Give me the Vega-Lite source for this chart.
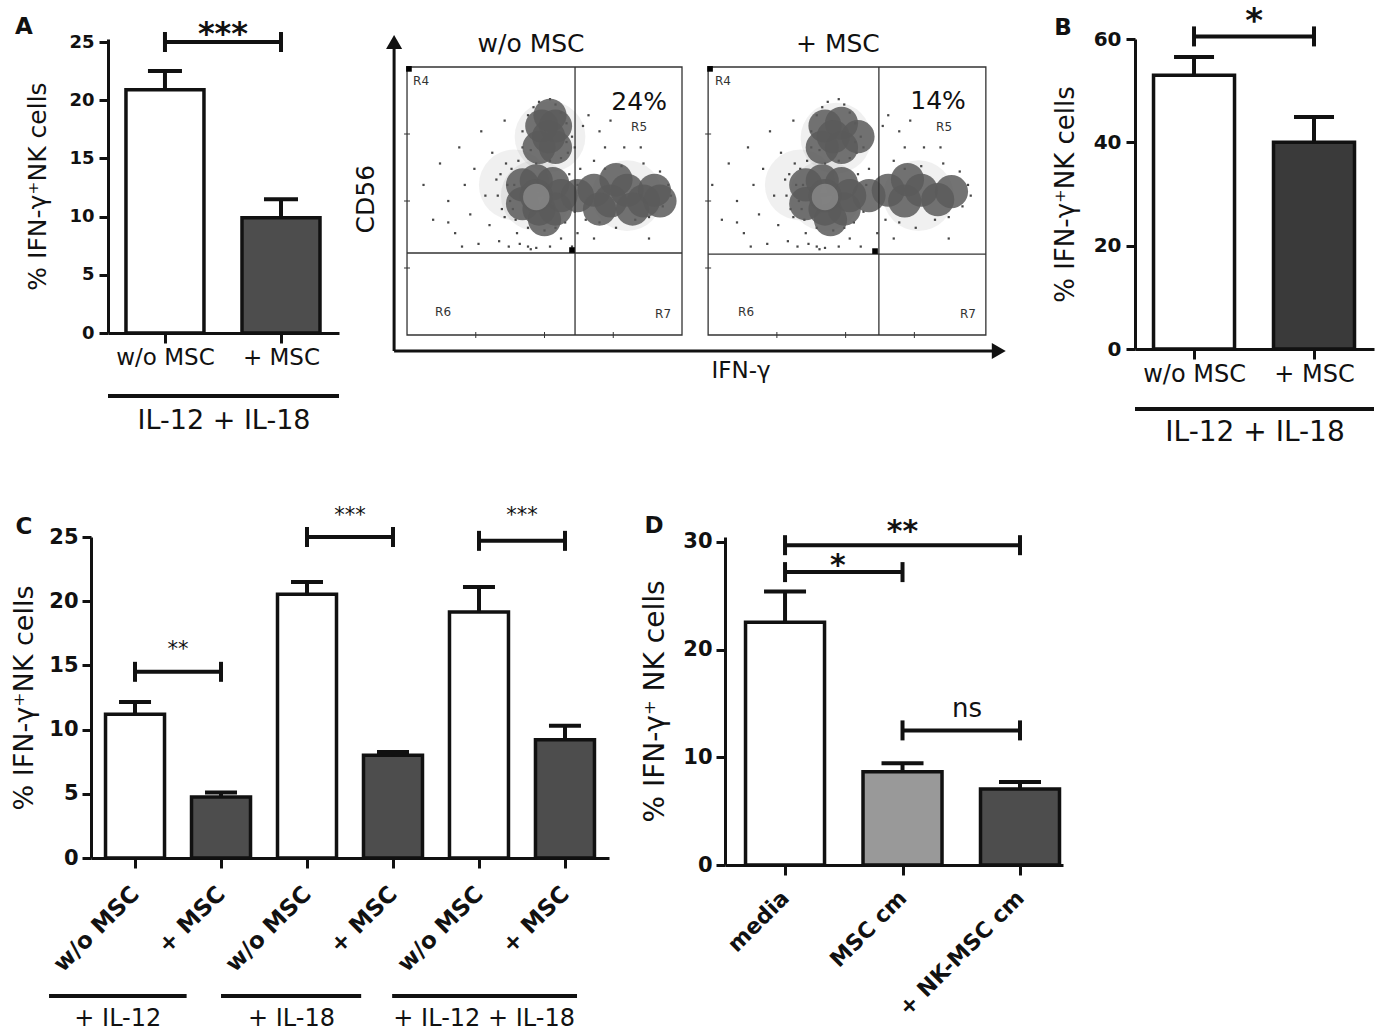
{
  "$schema": "https://vega.github.io/schema/vega-lite/v6.json",
  "background": "white",
  "padding": {"left": 10, "top": 4, "right": 0, "bottom": 0},
  "spacing": 58,
  "resolve": {"scale": {"fill": "independent"}},
  "datasets": {
    "blobs": [
      {"x": 470, "y": 520, "kind": "halo"}, {"x": 520, "y": 740, "kind": "halo"}, {"x": 800, "y": 520, "kind": "halo"}, {"x": 390, "y": 560, "kind": "halo"},
      {"x": 1520, "y": 520, "kind": "halo"}, {"x": 1560, "y": 735, "kind": "halo"}, {"x": 1860, "y": 520, "kind": "halo"}, {"x": 1430, "y": 560, "kind": "halo"},
      {"x": 420, "y": 560, "kind": "core"}, {"x": 470, "y": 575, "kind": "core"}, {"x": 530, "y": 565, "kind": "core"}, {"x": 560, "y": 520, "kind": "core"},
      {"x": 420, "y": 490, "kind": "core"}, {"x": 480, "y": 470, "kind": "core"}, {"x": 540, "y": 470, "kind": "core"}, {"x": 470, "y": 520, "kind": "core"},
      {"x": 500, "y": 430, "kind": "core"},
      {"x": 490, "y": 780, "kind": "core"}, {"x": 540, "y": 780, "kind": "core"}, {"x": 480, "y": 700, "kind": "core"}, {"x": 540, "y": 700, "kind": "core"},
      {"x": 515, "y": 740, "kind": "core"}, {"x": 520, "y": 820, "kind": "core"},
      {"x": 620, "y": 520, "kind": "core"}, {"x": 680, "y": 540, "kind": "core"}, {"x": 740, "y": 500, "kind": "core"}, {"x": 800, "y": 540, "kind": "core"},
      {"x": 860, "y": 500, "kind": "core"}, {"x": 900, "y": 540, "kind": "core"}, {"x": 700, "y": 470, "kind": "core"}, {"x": 820, "y": 470, "kind": "core"},
      {"x": 920, "y": 500, "kind": "core"}, {"x": 760, "y": 580, "kind": "core"},
      {"x": 1450, "y": 560, "kind": "core"}, {"x": 1510, "y": 575, "kind": "core"}, {"x": 1580, "y": 565, "kind": "core"}, {"x": 1610, "y": 520, "kind": "core"},
      {"x": 1450, "y": 490, "kind": "core"}, {"x": 1520, "y": 470, "kind": "core"}, {"x": 1590, "y": 470, "kind": "core"}, {"x": 1520, "y": 520, "kind": "core"},
      {"x": 1540, "y": 430, "kind": "core"},
      {"x": 1520, "y": 780, "kind": "core"}, {"x": 1580, "y": 790, "kind": "core"}, {"x": 1510, "y": 700, "kind": "core"}, {"x": 1580, "y": 700, "kind": "core"},
      {"x": 1550, "y": 740, "kind": "core"}, {"x": 1640, "y": 740, "kind": "core"},
      {"x": 1680, "y": 520, "kind": "core"}, {"x": 1750, "y": 540, "kind": "core"}, {"x": 1810, "y": 500, "kind": "core"}, {"x": 1870, "y": 540, "kind": "core"},
      {"x": 1930, "y": 505, "kind": "core"}, {"x": 1980, "y": 535, "kind": "core"}, {"x": 1820, "y": 580, "kind": "core"},
      {"x": 470, "y": 515, "kind": "light"}, {"x": 1520, "y": 515, "kind": "light"}
    ],
    "dots": [
      {"x": 60, "y": 560}, {"x": 95, "y": 430}, {"x": 120, "y": 640}, {"x": 150, "y": 500}, {"x": 175, "y": 380}, {"x": 190, "y": 700},
      {"x": 210, "y": 560}, {"x": 230, "y": 450}, {"x": 245, "y": 620}, {"x": 260, "y": 340}, {"x": 270, "y": 760}, {"x": 285, "y": 520},
      {"x": 300, "y": 410}, {"x": 310, "y": 680}, {"x": 325, "y": 580}, {"x": 335, "y": 350}, {"x": 345, "y": 470}, {"x": 355, "y": 800},
      {"x": 360, "y": 640}, {"x": 370, "y": 330}, {"x": 390, "y": 560}, {"x": 395, "y": 430}, {"x": 400, "y": 380}, {"x": 405, "y": 650},
      {"x": 410, "y": 340}, {"x": 420, "y": 700}, {"x": 560, "y": 360}, {"x": 575, "y": 420}, {"x": 590, "y": 600}, {"x": 600, "y": 330},
      {"x": 585, "y": 680}, {"x": 440, "y": 330}, {"x": 470, "y": 325}, {"x": 520, "y": 330}, {"x": 420, "y": 760}, {"x": 440, "y": 820},
      {"x": 460, "y": 850}, {"x": 560, "y": 830}, {"x": 580, "y": 790}, {"x": 600, "y": 740}, {"x": 610, "y": 700}, {"x": 640, "y": 780},
      {"x": 660, "y": 820}, {"x": 700, "y": 760}, {"x": 720, "y": 700}, {"x": 740, "y": 800}, {"x": 680, "y": 650}, {"x": 650, "y": 430},
      {"x": 700, "y": 420}, {"x": 760, "y": 400}, {"x": 830, "y": 430}, {"x": 880, "y": 440}, {"x": 930, "y": 480}, {"x": 950, "y": 560},
      {"x": 920, "y": 610}, {"x": 860, "y": 640}, {"x": 780, "y": 630}, {"x": 720, "y": 620}, {"x": 960, "y": 520}, {"x": 850, "y": 700},
      {"x": 790, "y": 700}, {"x": 200, "y": 330}, {"x": 450, "y": 320}, {"x": 620, "y": 380}, {"x": 680, "y": 360}, {"x": 880, "y": 360},
      {"x": 150, "y": 420}, {"x": 330, "y": 520}, {"x": 340, "y": 600}, {"x": 355, "y": 440}, {"x": 365, "y": 560}, {"x": 375, "y": 500},
      {"x": 380, "y": 620}, {"x": 385, "y": 470}, {"x": 610, "y": 460}, {"x": 620, "y": 560}, {"x": 630, "y": 620}, {"x": 470, "y": 640},
      {"x": 520, "y": 650}, {"x": 560, "y": 660}, {"x": 440, "y": 400}, {"x": 500, "y": 390}, {"x": 540, "y": 400}, {"x": 480, "y": 870},
      {"x": 520, "y": 880}, {"x": 540, "y": 860}, {"x": 450, "y": 690}, {"x": 580, "y": 720},
      {"x": 1110, "y": 560}, {"x": 1145, "y": 430}, {"x": 1170, "y": 640}, {"x": 1200, "y": 500}, {"x": 1225, "y": 380}, {"x": 1240, "y": 700},
      {"x": 1260, "y": 560}, {"x": 1280, "y": 450}, {"x": 1295, "y": 620}, {"x": 1310, "y": 340}, {"x": 1320, "y": 760}, {"x": 1335, "y": 520},
      {"x": 1350, "y": 410}, {"x": 1360, "y": 680}, {"x": 1375, "y": 580}, {"x": 1385, "y": 350}, {"x": 1395, "y": 470}, {"x": 1405, "y": 800},
      {"x": 1410, "y": 640}, {"x": 1420, "y": 330}, {"x": 1440, "y": 560}, {"x": 1445, "y": 430}, {"x": 1450, "y": 380}, {"x": 1455, "y": 650},
      {"x": 1460, "y": 340}, {"x": 1470, "y": 700}, {"x": 1610, "y": 360}, {"x": 1625, "y": 420}, {"x": 1640, "y": 600}, {"x": 1650, "y": 330},
      {"x": 1635, "y": 680}, {"x": 1490, "y": 330}, {"x": 1520, "y": 325}, {"x": 1570, "y": 330}, {"x": 1470, "y": 760}, {"x": 1490, "y": 820},
      {"x": 1510, "y": 850}, {"x": 1610, "y": 830}, {"x": 1630, "y": 790}, {"x": 1650, "y": 740}, {"x": 1660, "y": 700}, {"x": 1730, "y": 780},
      {"x": 1750, "y": 820}, {"x": 1790, "y": 760}, {"x": 1810, "y": 700}, {"x": 1830, "y": 800}, {"x": 1770, "y": 650}, {"x": 1740, "y": 430},
      {"x": 1790, "y": 420}, {"x": 1850, "y": 400}, {"x": 1920, "y": 430}, {"x": 1970, "y": 440}, {"x": 2020, "y": 480}, {"x": 2040, "y": 560},
      {"x": 2010, "y": 610}, {"x": 1950, "y": 640}, {"x": 1870, "y": 630}, {"x": 1810, "y": 620}, {"x": 2050, "y": 520}, {"x": 1940, "y": 700},
      {"x": 1880, "y": 700}, {"x": 1250, "y": 330}, {"x": 1500, "y": 320}, {"x": 1710, "y": 380}, {"x": 1770, "y": 360}, {"x": 1970, "y": 360},
      {"x": 1200, "y": 420}, {"x": 1380, "y": 520}, {"x": 1390, "y": 600}, {"x": 1405, "y": 440}, {"x": 1415, "y": 560}, {"x": 1425, "y": 500},
      {"x": 1430, "y": 620}, {"x": 1435, "y": 470}, {"x": 1660, "y": 460}, {"x": 1670, "y": 560}, {"x": 1680, "y": 620}, {"x": 1520, "y": 640},
      {"x": 1570, "y": 650}, {"x": 1610, "y": 660}, {"x": 1490, "y": 400}, {"x": 1550, "y": 390}, {"x": 1590, "y": 400}, {"x": 1530, "y": 870},
      {"x": 1570, "y": 880}, {"x": 1590, "y": 860}, {"x": 1500, "y": 690}, {"x": 1630, "y": 720}
    ],
    "flowText": [
      {"x": 451, "y": 1086, "t": "w/o MSC", "kind": "ttl"}, {"x": 1567, "y": 1086, "t": "+ MSC", "kind": "ttl"},
      {"x": 844, "y": 869, "t": "24%", "kind": "pct"}, {"x": 1931, "y": 873, "t": "14%", "kind": "pct"},
      {"x": 51, "y": 948, "t": "R4", "kind": "reg"}, {"x": 844, "y": 776, "t": "R5", "kind": "reg"},
      {"x": 131, "y": 86, "t": "R6", "kind": "reg"}, {"x": 931, "y": 78, "t": "R7", "kind": "reg"},
      {"x": 1149, "y": 948, "t": "R4", "kind": "reg"}, {"x": 1953, "y": 776, "t": "R5", "kind": "reg"},
      {"x": 1233, "y": 86, "t": "R6", "kind": "reg"}, {"x": 2040, "y": 78, "t": "R7", "kind": "reg"},
      {"x": 1215, "y": -134, "t": "IFN-γ", "kind": "ax"}
    ]
  },
  "vconcat": [
    {
      "bounds": "flush",
      "spacing": 10,
      "resolve": {"scale": {"fill": "independent"}},
      "hconcat": [
        {
          "width": 7, "height": 312,
          "data": {"values": [{"a": 1}]},
          "mark": {"type": "point", "opacity": 0},
          "encoding": {}
        },
        {
          "width": 231, "height": 294,
          "layer": [
            {
              "data": {"values": [
                {"pos": 1, "cond": "w/o MSC", "mean": 20.9, "hi": 22.5},
                {"pos": 2, "cond": "+ MSC", "mean": 9.9, "hi": 11.5}
              ]},
              "layer": [
                {
                  "mark": {"type": "bar", "width": 78, "stroke": "#111", "strokeWidth": 3.5},
                  "encoding": {
                    "x": {"field": "pos", "type": "quantitative",
                      "scale": {"domain": [0.509, 2.5], "nice": false, "zero": false, "padding": 0},
                      "axis": {"values": [1, 2], "labelExpr": "datum.value == 1 ? 'w/o MSC' : '+ MSC'", "title": "IL-12 + IL-18",
                        "titleFontSize": 27, "titlePadding": 38, "labelFontSize": 23, "labelPadding": 3, "tickSize": 10,
                        "labelFlush": false, "labelOverlap": false, "labelBound": false}},
                    "y": {"field": "mean", "type": "quantitative",
                      "scale": {"domain": [0, 25.26], "nice": false},
                      "axis": {"values": [0, 5, 10, 15, 20, 25], "title": "% IFN-γ⁺NK cells", "titleFontSize": 25, "titlePadding": 18,
                        "labelFontSize": 18, "labelFontWeight": "bold", "tickSize": 9, "labelPadding": 5}},
                    "fill": {"field": "cond", "type": "nominal", "scale": {"domain": ["w/o MSC", "+ MSC"], "range": ["#ffffff", "#4d4d4d"]}, "legend": null}
                  }
                },
                {
                  "mark": {"type": "rule", "strokeWidth": 4, "color": "#111"},
                  "encoding": {"x": {"field": "pos", "type": "quantitative"}, "y": {"field": "mean", "type": "quantitative"}, "y2": {"field": "hi"}}
                },
                {
                  "mark": {"type": "tick", "orient": "horizontal", "size": 34, "thickness": 4, "color": "#111", "opacity": 1},
                  "encoding": {"x": {"field": "pos", "type": "quantitative"}, "y": {"field": "hi", "type": "quantitative"}}
                }
              ]
            },
            {
              "data": {"values": [{"x1": 1, "x2": 2, "y": 25, "mid": 1.5, "ty": 24.82, "label": "***"}]},
              "layer": [
                {"mark": {"type": "rule", "strokeWidth": 4, "color": "#111"},
                  "encoding": {"x": {"field": "x1", "type": "quantitative"}, "x2": {"field": "x2"}, "y": {"field": "y", "type": "quantitative"}}},
                {"mark": {"type": "tick", "orient": "vertical", "size": 20, "thickness": 4, "color": "#111", "opacity": 1},
                  "encoding": {"x": {"field": "x1", "type": "quantitative"}, "y": {"field": "y", "type": "quantitative"}}},
                {"mark": {"type": "tick", "orient": "vertical", "size": 20, "thickness": 4, "color": "#111", "opacity": 1},
                  "encoding": {"x": {"field": "x2", "type": "quantitative"}, "y": {"field": "y", "type": "quantitative"}}},
                {"mark": {"type": "text", "fontSize": 32, "fontWeight": "bold", "baseline": "alphabetic", "color": "#111"},
                  "encoding": {"x": {"field": "mid", "type": "quantitative"}, "y": {"field": "ty", "type": "quantitative"}, "text": {"field": "label"}}}
              ]
            },
            {
              "data": {"values": [{"panel": "A"}]},
              "layer": [
                {"mark": {"type": "rule", "strokeWidth": 4, "color": "#111"}, "encoding": {"y": {"datum": -5.41}}},
                {"mark": {"type": "text", "fontSize": 23, "fontWeight": "bold", "baseline": "middle", "color": "#111"},
                  "encoding": {"x": {"datum": -0.215}, "y": {"datum": 26.3}, "text": {"field": "panel"}}}
              ]
            }
          ]
        },
        {
          "width": 776, "height": 312,
          "layer": [
            {
              "data": {"name": "blobs"},
              "transform": [{"filter": "datum.kind == 'halo'"}],
              "mark": {"type": "point", "filled": true, "shape": "circle", "size": 5000, "color": "#777", "opacity": 0.11, "strokeWidth": 0},
              "encoding": {
                "x": {"field": "x", "type": "quantitative", "scale": {"domain": [-211, 2611], "nice": false, "zero": false, "padding": 0}, "axis": null},
                "y": {"field": "y", "type": "quantitative", "scale": {"domain": [-59.7, 1104.5], "nice": false, "zero": false, "padding": 0}, "axis": null}
              }
            },
            {
              "data": {"name": "dots"},
              "mark": {"type": "point", "filled": true, "shape": "square", "size": 5, "color": "#333", "opacity": 0.9, "strokeWidth": 0},
              "encoding": {"x": {"field": "x", "type": "quantitative"}, "y": {"field": "y", "type": "quantitative"}}
            },
            {
              "data": {"name": "blobs"},
              "transform": [{"filter": "datum.kind == 'core'"}],
              "mark": {"type": "point", "filled": true, "shape": "circle", "size": 1100, "color": "#5a5a5a", "opacity": 0.85, "strokeWidth": 0},
              "encoding": {"x": {"field": "x", "type": "quantitative"}, "y": {"field": "y", "type": "quantitative"}}
            },
            {
              "data": {"name": "blobs"},
              "transform": [{"filter": "datum.kind == 'light'"}],
              "mark": {"type": "point", "filled": true, "shape": "circle", "size": 700, "color": "#9a9a9a", "opacity": 0.6, "strokeWidth": 0},
              "encoding": {"x": {"field": "x", "type": "quantitative"}, "y": {"field": "y", "type": "quantitative"}}
            },
            {
              "data": {"values": [{"x1": 0, "x2": 1000, "y1": 0, "y2": 1000}, {"x1": 1095, "x2": 2105, "y1": 0, "y2": 1000}]},
              "mark": {"type": "rect", "filled": false, "stroke": "#333", "strokeWidth": 1.3},
              "encoding": {"x": {"field": "x1", "type": "quantitative"}, "x2": {"field": "x2"}, "y": {"field": "y1", "type": "quantitative"}, "y2": {"field": "y2"}}
            },
            {
              "data": {"values": [
                {"x1": 611, "x2": 611, "y1": 0, "y2": 1000}, {"x1": 0, "x2": 1000, "y1": 306, "y2": 306},
                {"x1": 1716, "x2": 1716, "y1": 0, "y2": 1000}, {"x1": 1095, "x2": 2105, "y1": 302, "y2": 302}
              ]},
              "mark": {"type": "rule", "stroke": "#333", "strokeWidth": 1.3},
              "encoding": {"x": {"field": "x1", "type": "quantitative"}, "x2": {"field": "x2"}, "y": {"field": "y1", "type": "quantitative"}, "y2": {"field": "y2"}}
            },
            {
              "data": {"values": [
                {"x": 0, "y": 250}, {"x": 0, "y": 500}, {"x": 0, "y": 750},
                {"x": 1095, "y": 250}, {"x": 1095, "y": 500}, {"x": 1095, "y": 750}
              ]},
              "mark": {"type": "tick", "orient": "horizontal", "size": 6, "thickness": 1, "color": "#333", "opacity": 1},
              "encoding": {"x": {"field": "x", "type": "quantitative"}, "y": {"field": "y", "type": "quantitative"}}
            },
            {
              "data": {"values": [
                {"x": 250, "y": 0}, {"x": 500, "y": 0}, {"x": 750, "y": 0},
                {"x": 1345, "y": 0}, {"x": 1595, "y": 0}, {"x": 1845, "y": 0}
              ]},
              "mark": {"type": "tick", "orient": "vertical", "size": 6, "thickness": 1, "color": "#333", "opacity": 1},
              "encoding": {"x": {"field": "x", "type": "quantitative"}, "y": {"field": "y", "type": "quantitative"}}
            },
            {
              "data": {"values": [{"x": 7, "y": 993}, {"x": 600, "y": 317}, {"x": 1102, "y": 993}, {"x": 1702, "y": 313}]},
              "mark": {"type": "point", "filled": true, "shape": "square", "size": 32, "color": "#000", "opacity": 1, "strokeWidth": 0},
              "encoding": {"x": {"field": "x", "type": "quantitative"}, "y": {"field": "y", "type": "quantitative"}}
            },
            {
              "data": {"name": "flowText"},
              "transform": [{"filter": "datum.kind == 'ttl'"}],
              "mark": {"type": "text", "fontSize": 25, "baseline": "middle", "color": "#111"},
              "encoding": {"x": {"field": "x", "type": "quantitative"}, "y": {"field": "y", "type": "quantitative"}, "text": {"field": "t"}}
            },
            {
              "data": {"name": "flowText"},
              "transform": [{"filter": "datum.kind == 'pct'"}],
              "mark": {"type": "text", "fontSize": 25, "baseline": "middle", "color": "#111"},
              "encoding": {"x": {"field": "x", "type": "quantitative"}, "y": {"field": "y", "type": "quantitative"}, "text": {"field": "t"}}
            },
            {
              "data": {"name": "flowText"},
              "transform": [{"filter": "datum.kind == 'reg'"}],
              "mark": {"type": "text", "fontSize": 12, "baseline": "middle", "color": "#333"},
              "encoding": {"x": {"field": "x", "type": "quantitative"}, "y": {"field": "y", "type": "quantitative"}, "text": {"field": "t"}}
            },
            {
              "data": {"name": "flowText"},
              "transform": [{"filter": "datum.kind == 'ax'"}],
              "mark": {"type": "text", "fontSize": 23, "baseline": "middle", "color": "#111"},
              "encoding": {"x": {"field": "x", "type": "quantitative"}, "y": {"field": "y", "type": "quantitative"}, "text": {"field": "t"}}
            },
            {
              "data": {"values": [{"x": -149, "y": 507, "t": "CD56"}]},
              "mark": {"type": "text", "fontSize": 25, "baseline": "middle", "angle": 270, "color": "#111"},
              "encoding": {"x": {"field": "x", "type": "quantitative"}, "y": {"field": "y", "type": "quantitative"}, "text": {"field": "t"}}
            },
            {
              "data": {"values": [{"x1": -47, "x2": -47, "y1": -59.7, "y2": 1085}, {"x1": -47, "x2": 2145, "y1": -59.7, "y2": -59.7}]},
              "mark": {"type": "rule", "stroke": "#111", "strokeWidth": 3},
              "encoding": {"x": {"field": "x1", "type": "quantitative"}, "x2": {"field": "x2"}, "y": {"field": "y1", "type": "quantitative"}, "y2": {"field": "y2"}}
            },
            {
              "data": {"values": [{"x": -47, "y": 1093, "dir": "up"}, {"x": 2152, "y": -59.7, "dir": "right"}]},
              "mark": {"type": "point", "filled": true, "size": 260, "color": "#111", "opacity": 1, "strokeWidth": 0},
              "encoding": {
                "x": {"field": "x", "type": "quantitative"}, "y": {"field": "y", "type": "quantitative"},
                "shape": {"field": "dir", "type": "nominal", "scale": {"domain": ["up", "right"], "range": ["triangle-up", "triangle-right"]}, "legend": null}
              }
            }
          ]
        },
        {
          "width": 239, "height": 310,
          "layer": [
            {
              "data": {"values": [
                {"pos": 1, "cond": "w/o MSC", "mean": 53.0, "hi": 56.5},
                {"pos": 2, "cond": "+ MSC", "mean": 40.0, "hi": 44.9}
              ]},
              "layer": [
                {
                  "mark": {"type": "bar", "width": 81, "stroke": "#111", "strokeWidth": 3.5},
                  "encoding": {
                    "x": {"field": "pos", "type": "quantitative",
                      "scale": {"domain": [0.508, 2.5], "nice": false, "zero": false, "padding": 0},
                      "axis": {"values": [1, 2], "labelExpr": "datum.value == 1 ? 'w/o MSC' : '+ MSC'", "title": "IL-12 + IL-18",
                        "titleFontSize": 28, "titlePadding": 32, "labelFontSize": 24, "labelPadding": 3, "tickSize": 10,
                        "labelFlush": false, "labelOverlap": false, "labelBound": false}},
                    "y": {"field": "mean", "type": "quantitative",
                      "scale": {"domain": [0, 60], "nice": false},
                      "axis": {"values": [0, 20, 40, 60], "title": "% IFN-γ⁺NK cells", "titleFontSize": 26, "titlePadding": 15,
                        "labelFontSize": 20, "labelFontWeight": "bold", "tickSize": 9, "labelPadding": 5}},
                    "fill": {"field": "cond", "type": "nominal", "scale": {"domain": ["w/o MSC", "+ MSC"], "range": ["#ffffff", "#3a3a3a"]}, "legend": null}
                  }
                },
                {
                  "mark": {"type": "rule", "strokeWidth": 4, "color": "#111"},
                  "encoding": {"x": {"field": "pos", "type": "quantitative"}, "y": {"field": "mean", "type": "quantitative"}, "y2": {"field": "hi"}}
                },
                {
                  "mark": {"type": "tick", "orient": "horizontal", "size": 40, "thickness": 4, "color": "#111", "opacity": 1},
                  "encoding": {"x": {"field": "pos", "type": "quantitative"}, "y": {"field": "hi", "type": "quantitative"}}
                }
              ]
            },
            {
              "data": {"values": [{"x1": 1, "x2": 2, "y": 60.5, "mid": 1.5, "ty": 61.4, "label": "*"}]},
              "layer": [
                {"mark": {"type": "rule", "strokeWidth": 4, "color": "#111"},
                  "encoding": {"x": {"field": "x1", "type": "quantitative"}, "x2": {"field": "x2"}, "y": {"field": "y", "type": "quantitative"}}},
                {"mark": {"type": "tick", "orient": "vertical", "size": 20, "thickness": 4, "color": "#111", "opacity": 1},
                  "encoding": {"x": {"field": "x1", "type": "quantitative"}, "y": {"field": "y", "type": "quantitative"}}},
                {"mark": {"type": "tick", "orient": "vertical", "size": 20, "thickness": 4, "color": "#111", "opacity": 1},
                  "encoding": {"x": {"field": "x2", "type": "quantitative"}, "y": {"field": "y", "type": "quantitative"}}},
                {"mark": {"type": "text", "fontSize": 34, "fontWeight": "bold", "baseline": "alphabetic", "color": "#111"},
                  "encoding": {"x": {"field": "mid", "type": "quantitative"}, "y": {"field": "ty", "type": "quantitative"}, "text": {"field": "label"}}}
              ]
            },
            {
              "data": {"values": [{"panel": "B"}]},
              "layer": [
                {"mark": {"type": "rule", "strokeWidth": 4, "color": "#111"}, "encoding": {"y": {"datum": -11.6}}},
                {"mark": {"type": "text", "fontSize": 23, "fontWeight": "bold", "baseline": "middle", "color": "#111"},
                  "encoding": {"x": {"datum": -0.092}, "y": {"datum": 62.1}, "text": {"field": "panel"}}}
              ]
            }
          ]
        }
      ]
    },
    {
      "bounds": "flush",
      "spacing": 116,
      "resolve": {"scale": {"fill": "independent"}},
      "hconcat": [
        {
          "width": 518, "height": 321,
          "layer": [
            {
              "data": {"values": [
                {"pos": 1, "cond": "w/o MSC", "mean": 11.2, "hi": 12.15},
                {"pos": 2, "cond": "+ MSC", "mean": 4.75, "hi": 5.1},
                {"pos": 3, "cond": "w/o MSC", "mean": 20.55, "hi": 21.5},
                {"pos": 4, "cond": "+ MSC", "mean": 8.0, "hi": 8.25},
                {"pos": 5, "cond": "w/o MSC", "mean": 19.15, "hi": 21.1},
                {"pos": 6, "cond": "+ MSC", "mean": 9.2, "hi": 10.3}
              ]},
              "layer": [
                {
                  "mark": {"type": "bar", "width": 59, "stroke": "#111", "strokeWidth": 3.5},
                  "encoding": {
                    "x": {"field": "pos", "type": "quantitative",
                      "scale": {"domain": [0.488, 6.512], "nice": false, "zero": false, "padding": 0},
                      "axis": {"values": [1, 2, 3, 4, 5, 6], "labelExpr": "datum.value % 2 == 1 ? 'w/o MSC' : '+ MSC'", "title": null,
                        "labelFontSize": 23, "labelFontWeight": "bold", "labelAngle": -45, "labelAlign": "right", "labelBaseline": "middle",
                        "labelPadding": 22, "tickSize": 10, "labelFlush": false, "labelOverlap": false, "labelBound": false}},
                    "y": {"field": "mean", "type": "quantitative",
                      "scale": {"domain": [0, 25], "nice": false},
                      "axis": {"values": [0, 5, 10, 15, 20, 25], "title": "% IFN-γ⁺NK cells", "titleFontSize": 27, "titlePadding": 10,
                        "labelFontSize": 21, "labelFontWeight": "bold", "tickSize": 9, "labelPadding": 4}},
                    "fill": {"field": "cond", "type": "nominal", "scale": {"domain": ["w/o MSC", "+ MSC"], "range": ["#ffffff", "#4d4d4d"]}, "legend": null}
                  }
                },
                {
                  "mark": {"type": "rule", "strokeWidth": 4, "color": "#111"},
                  "encoding": {"x": {"field": "pos", "type": "quantitative"}, "y": {"field": "mean", "type": "quantitative"}, "y2": {"field": "hi"}}
                },
                {
                  "mark": {"type": "tick", "orient": "horizontal", "size": 32, "thickness": 4, "color": "#111", "opacity": 1},
                  "encoding": {"x": {"field": "pos", "type": "quantitative"}, "y": {"field": "hi", "type": "quantitative"}}
                }
              ]
            },
            {
              "data": {"values": [
                {"x1": 1, "x2": 2, "y": 14.5, "mid": 1.5, "ty": 15.73, "label": "**"},
                {"x1": 3, "x2": 4, "y": 25, "mid": 3.5, "ty": 26.17, "label": "***"},
                {"x1": 5, "x2": 6, "y": 24.7, "mid": 5.5, "ty": 26.17, "label": "***"}
              ]},
              "layer": [
                {"mark": {"type": "rule", "strokeWidth": 4, "color": "#111"},
                  "encoding": {"x": {"field": "x1", "type": "quantitative"}, "x2": {"field": "x2"}, "y": {"field": "y", "type": "quantitative"}}},
                {"mark": {"type": "tick", "orient": "vertical", "size": 20, "thickness": 4, "color": "#111", "opacity": 1},
                  "encoding": {"x": {"field": "x1", "type": "quantitative"}, "y": {"field": "y", "type": "quantitative"}}},
                {"mark": {"type": "tick", "orient": "vertical", "size": 20, "thickness": 4, "color": "#111", "opacity": 1},
                  "encoding": {"x": {"field": "x2", "type": "quantitative"}, "y": {"field": "y", "type": "quantitative"}}},
                {"mark": {"type": "text", "fontSize": 21, "baseline": "alphabetic", "color": "#111"},
                  "encoding": {"x": {"field": "mid", "type": "quantitative"}, "y": {"field": "ty", "type": "quantitative"}, "text": {"field": "label"}}}
              ]
            },
            {
              "data": {"values": [
                {"start": 0.0, "end": 1.6, "mid": 0.8, "label": "+ IL-12"},
                {"start": 2.0, "end": 3.63, "mid": 2.82, "label": "+ IL-18"},
                {"start": 3.99, "end": 6.14, "mid": 5.06, "label": "+ IL-12 + IL-18"}
              ]},
              "layer": [
                {"mark": {"type": "rule", "strokeWidth": 4, "color": "#111"},
                  "encoding": {"x": {"field": "start", "type": "quantitative"}, "x2": {"field": "end"}, "y": {"datum": -10.75}}},
                {"mark": {"type": "text", "fontSize": 24, "baseline": "middle", "color": "#111"},
                  "encoding": {"x": {"field": "mid", "type": "quantitative"}, "y": {"datum": -12.5}, "text": {"field": "label"}}}
              ]
            },
            {
              "data": {"values": [{"panel": "C"}]},
              "mark": {"type": "text", "fontSize": 23, "fontWeight": "bold", "baseline": "middle", "color": "#111"},
              "encoding": {"x": {"datum": -0.291}, "y": {"datum": 25.78}, "text": {"field": "panel"}}
            }
          ]
        },
        {
          "width": 338, "height": 328,
          "layer": [
            {
              "data": {"values": [
                {"pos": 1, "cond": "media", "mean": 22.55, "hi": 25.4},
                {"pos": 2, "cond": "MSC cm", "mean": 8.65, "hi": 9.45},
                {"pos": 3, "cond": "+ NK-MSC cm", "mean": 7.05, "hi": 7.7}
              ]},
              "layer": [
                {
                  "mark": {"type": "bar", "width": 79, "stroke": "#111", "strokeWidth": 3.5},
                  "encoding": {
                    "x": {"field": "pos", "type": "quantitative",
                      "scale": {"domain": [0.489, 3.366], "nice": false, "zero": false, "padding": 0},
                      "axis": {"values": [1, 2, 3], "labelExpr": "datum.value == 1 ? 'media' : datum.value == 2 ? 'MSC cm' : '+ NK-MSC cm'", "title": null,
                        "labelFontSize": 22, "labelFontWeight": "bold", "labelAngle": -45, "labelAlign": "right", "labelBaseline": "middle",
                        "labelPadding": 19, "tickSize": 10, "labelFlush": false, "labelOverlap": false, "labelBound": false}},
                    "y": {"field": "mean", "type": "quantitative",
                      "scale": {"domain": [0, 30.46], "nice": false},
                      "axis": {"values": [0, 10, 20, 30], "title": "% IFN-γ⁺ NK cells", "titleFontSize": 28, "titlePadding": 13,
                        "labelFontSize": 21, "labelFontWeight": "bold", "tickSize": 9, "labelPadding": 4}},
                    "fill": {"field": "cond", "type": "nominal", "scale": {"domain": ["media", "MSC cm", "+ NK-MSC cm"], "range": ["#ffffff", "#999999", "#4d4d4d"]}, "legend": null}
                  }
                },
                {
                  "mark": {"type": "rule", "strokeWidth": 4, "color": "#111"},
                  "encoding": {"x": {"field": "pos", "type": "quantitative"}, "y": {"field": "mean", "type": "quantitative"}, "y2": {"field": "hi"}}
                },
                {
                  "mark": {"type": "tick", "orient": "horizontal", "size": 42, "thickness": 4, "color": "#111", "opacity": 1},
                  "encoding": {"x": {"field": "pos", "type": "quantitative"}, "y": {"field": "hi", "type": "quantitative"}}
                }
              ]
            },
            {
              "data": {"values": [
                {"x1": 1, "x2": 3, "y": 29.7, "mid": 2.0, "ty": 30.07, "label": "**"},
                {"x1": 1, "x2": 2, "y": 27.2, "mid": 1.45, "ty": 26.97, "label": "*"},
                {"x1": 2, "x2": 3, "y": 12.5, "mid": 2.55, "ty": 13.7, "label": "ns"}
              ]},
              "layer": [
                {"mark": {"type": "rule", "strokeWidth": 4, "color": "#111"},
                  "encoding": {"x": {"field": "x1", "type": "quantitative"}, "x2": {"field": "x2"}, "y": {"field": "y", "type": "quantitative"}}},
                {"mark": {"type": "tick", "orient": "vertical", "size": 20, "thickness": 4, "color": "#111", "opacity": 1},
                  "encoding": {"x": {"field": "x1", "type": "quantitative"}, "y": {"field": "y", "type": "quantitative"}}},
                {"mark": {"type": "tick", "orient": "vertical", "size": 20, "thickness": 4, "color": "#111", "opacity": 1},
                  "encoding": {"x": {"field": "x2", "type": "quantitative"}, "y": {"field": "y", "type": "quantitative"}}},
                {"transform": [{"filter": "datum.label != 'ns'"}],
                  "mark": {"type": "text", "fontSize": 30, "fontWeight": "bold", "baseline": "alphabetic", "color": "#111"},
                  "encoding": {"x": {"field": "mid", "type": "quantitative"}, "y": {"field": "ty", "type": "quantitative"}, "text": {"field": "label"}}},
                {"transform": [{"filter": "datum.label == 'ns'"}],
                  "mark": {"type": "text", "fontSize": 26, "baseline": "alphabetic", "color": "#111"},
                  "encoding": {"x": {"field": "mid", "type": "quantitative"}, "y": {"field": "ty", "type": "quantitative"}, "text": {"field": "label"}}}
              ]
            },
            {
              "data": {"values": [{"panel": "D"}]},
              "mark": {"type": "text", "fontSize": 23, "fontWeight": "bold", "baseline": "middle", "color": "#111"},
              "encoding": {"x": {"datum": -0.115}, "y": {"datum": 31.48}, "text": {"field": "panel"}}
            }
          ]
        }
      ]
    }
  ],
  "config": {
    "font": "DejaVu Sans",
    "view": {"stroke": null},
    "axis": {
      "grid": false, "domainColor": "#111", "tickColor": "#111", "labelColor": "#111", "titleColor": "#111",
      "domainWidth": 3, "tickWidth": 3, "titleFontWeight": "normal",
      "labelFont": "DejaVu Sans", "titleFont": "DejaVu Sans"
    }
  }
}
